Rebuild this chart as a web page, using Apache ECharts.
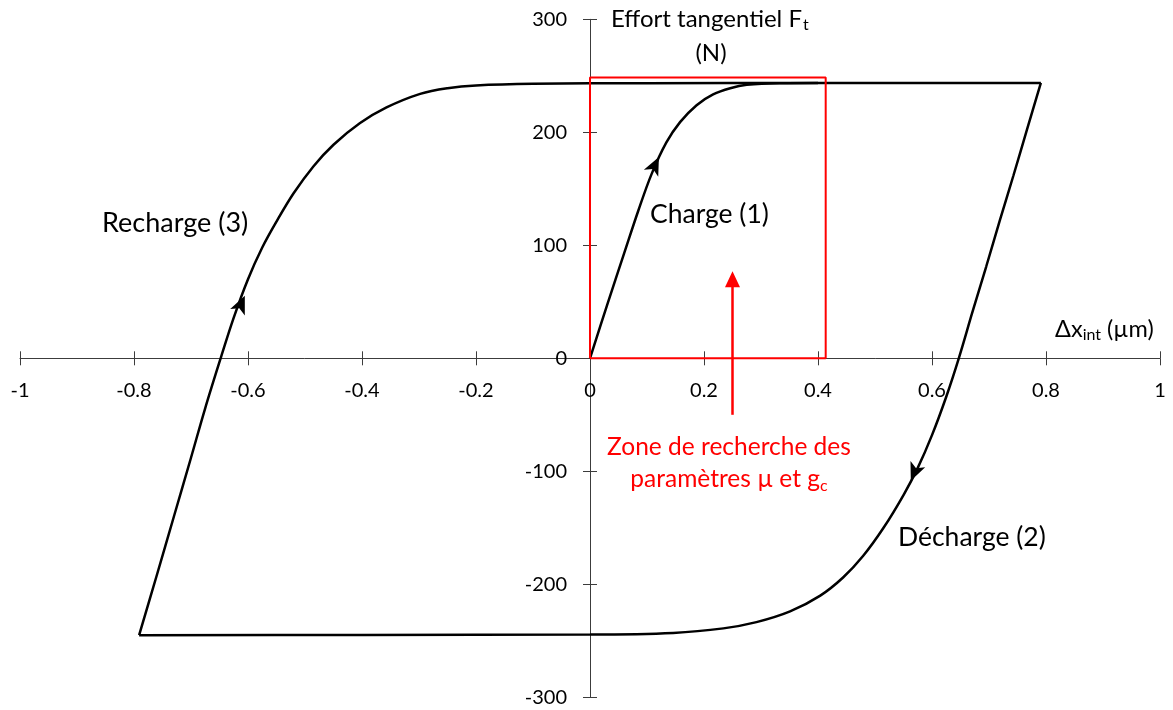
<!DOCTYPE html>
<html>
<head>
<meta charset="utf-8">
<script src="https://cdn.jsdelivr.net/npm/echarts@6/dist/echarts.min.js"></script>
<style>html,body{margin:0;padding:0;background:#fff}#c{width:1173px;height:710px}</style>
</head>
<body>
<div id="c"></div>
<script>
// ---- data (Δx_int in µm, F_t in N) ----
const xTicks = [-1, -0.8, -0.6, -0.4, -0.2, 0, 0.2, 0.4, 0.6, 0.8, 1];
const yTicks = [-300, -200, -100, 0, 100, 200, 300];

const chargeX = [0, 0.03, 0.06, 0.085, 0.108, 0.134, 0.158, 0.187, 0.216, 0.246, 0.275, 0.333, 0.4];
const chargeF = [0, 47, 93, 131, 163, 191, 209, 224, 233.5, 239, 242, 243.5, 243.7];

const dechargeX = [0.791, 0.767, 0.743, 0.719, 0.695, 0.671, 0.647, 0.625, 0.6, 0.575, 0.55, 0.515, 0.479, 0.444, 0.404, 0.351, 0.292, 0.234, 0.146, 0, -0.4, -0.791];
const dechargeF = [243.7, 203, 162, 122, 81, 41, 0, -34, -68, -97, -121, -150, -175, -194, -210, -224, -233.5, -239, -243, -244.5, -244.8, -245];

const rechargeX = [-0.791, -0.76, -0.73, -0.70, -0.675, -0.648, -0.625, -0.6, -0.575, -0.55, -0.52, -0.485, -0.45, -0.404, -0.357, -0.298, -0.25, -0.2, -0.1, 0.1, 0.4, 0.791];
const rechargeF = [-245, -192, -140, -88, -44, 0, 36, 70, 98, 121, 146, 170, 189, 208, 222, 234, 239, 241.5, 243, 243.5, 243.7, 243.7];

// direction arrows on the curves
const arrowX = [0.114, 0.569, -0.612];
const arrowF = [171, -101, 48];
const arrowRot = [-26, 157, -24];

// search zone rectangle and red arrow
const zoneX = [0, 0.4135, 0.4135, 0, 0];
const zoneF = [0, 0, 248.5, 248.5, 0];
const redArrowX = [0.25, 0.25];
const redArrowF = [-50, 70];

const zip = (a, b) => a.map((v, i) => [v, b[i]]);

const FONT = 'Lato';
const axisCol = '#3c3c3c';
const chart = echarts.init(document.getElementById('c'), null, {renderer: 'canvas'});

// plot area geometry
const G = {left: 20, right: 13, top: 19.3, bottom: 12.7};
const H = 710 - G.top - G.bottom, W = 1173 - G.left - G.right;
const xZeroOff = -(H * (0 - (-300)) / 600);
const xTopOff = -(H * (300 - 0) / 600);
const yZeroOff = -(W * (0 - (-1)) / 2);
const yRightOff = -(W * (1 - 0) / 2);

const xBase = {
  type: 'value', min: -1, max: 1, interval: 0.2,
  splitLine: {show: false},
  axisLine: {show: true, onZero: false, lineStyle: {color: axisCol, width: 1}},
};
const yBase = {
  type: 'value', min: -300, max: 300, interval: 100,
  splitLine: {show: false},
  axisLine: {show: true, onZero: false, lineStyle: {color: axisCol, width: 1}},
};

const arrowPath = 'path://M10,0 L20,20 L10,15 L0,20 Z';

chart.setOption({
  animation: false,
  grid: Object.assign({containLabel: false, outerBoundsMode: 'none'}, G),
  xAxis: [
    Object.assign({}, xBase, {
      position: 'bottom', offset: xZeroOff,
      axisTick: {show: true, inside: false, length: 7, lineStyle: {color: axisCol}},
      axisLabel: {show: true, margin: 22, fontFamily: FONT, fontSize: 20, color: '#000',
        showMinLabel: true, showMaxLabel: true, hideOverlap: false,
        formatter: v => String(Math.round(v * 10) / 10)}
    }),
    Object.assign({}, xBase, {
      position: 'top', offset: xTopOff,
      axisLine: {show: false},
      axisTick: {show: true, inside: false, length: 7, lineStyle: {color: axisCol}},
      axisLabel: {show: false}
    })
  ],
  yAxis: [
    Object.assign({}, yBase, {
      position: 'left', offset: yZeroOff,
      axisTick: {show: true, inside: false, length: 7, lineStyle: {color: axisCol}},
      axisLabel: {show: true, margin: 23, fontFamily: FONT, fontSize: 20, color: '#000',
        showMinLabel: true, showMaxLabel: true, hideOverlap: false}
    }),
    Object.assign({}, yBase, {
      position: 'right', offset: yRightOff,
      axisLine: {show: false},
      axisTick: {show: true, inside: false, length: 7, lineStyle: {color: axisCol}},
      axisLabel: {show: false}
    })
  ],
  series: [
    {type: 'line', name: 'Charge (1)', data: zip(chargeX, chargeF), smooth: 0.35, showSymbol: false,
      lineStyle: {color: '#000', width: 2.5}, z: 5},
    {type: 'line', name: 'Décharge (2)', data: zip(dechargeX, dechargeF), smooth: 0.35, showSymbol: false,
      lineStyle: {color: '#000', width: 2.5}, z: 5},
    {type: 'line', name: 'Recharge (3)', data: zip(rechargeX, rechargeF), smooth: 0.35, showSymbol: false,
      lineStyle: {color: '#000', width: 2.5}, z: 5},
    {type: 'line', name: 'zone', data: zip(zoneX, zoneF), smooth: false, showSymbol: false,
      lineStyle: {color: '#ff0000', width: 2}, z: 6,
      markLine: {
        silent: true, animation: false,
        symbol: ['none', 'triangle'], symbolSize: [15, 16],
        lineStyle: {color: '#ff0000', width: 2.5, type: 'solid'},
        label: {show: false},
        data: [[{coord: [redArrowX[0], redArrowF[0]]}, {coord: [redArrowX[1], redArrowF[1]]}]]
      }},
    {type: 'scatter', name: 'arrows', symbol: arrowPath, symbolSize: [16, 18], symbolKeepAspect: false, z: 7,
      itemStyle: {color: '#000', opacity: 1},
      data: arrowX.map((x, i) => ({value: [x, arrowF[i]], symbolRotate: arrowRot[i]}))}
  ],
  graphic: [
    {type: 'text', x: 611, y: 19, style: {
      text: '{a|Effort tangentiel F}{s|t}', fontFamily: FONT, fill: '#000', verticalAlign: 'middle',
      rich: {a: {fontFamily: FONT, fontSize: 24, lineHeight: 28, verticalAlign: 'middle'},
             s: {fontFamily: FONT, fontSize: 16, lineHeight: 28, verticalAlign: 'bottom', padding: [0, 0, 0, 1]}}}},
    {type: 'text', x: 711, y: 53, style: {text: '(N)', fontFamily: FONT, fontSize: 24, fill: '#000', align: 'center', verticalAlign: 'middle'}},
    {type: 'text', x: 1055, y: 329, style: {
      text: '{a|Δx}{s|int}{a| (µm)}', fontFamily: FONT, fill: '#000', verticalAlign: 'middle',
      rich: {a: {fontFamily: FONT, fontSize: 23.5, lineHeight: 28, verticalAlign: 'middle'},
             s: {fontFamily: FONT, fontSize: 16, lineHeight: 28, verticalAlign: 'bottom'}}}},
    {type: 'text', x: 102, y: 223, style: {text: 'Recharge (3)', fontFamily: FONT, fontSize: 27, fill: '#000', verticalAlign: 'middle'}},
    {type: 'text', x: 650, y: 214, style: {text: 'Charge (1)', fontFamily: FONT, fontSize: 26.5, fill: '#000', verticalAlign: 'middle'}},
    {type: 'text', x: 898, y: 537, style: {text: 'Décharge (2)', fontFamily: FONT, fontSize: 26.5, fill: '#000', verticalAlign: 'middle'}},
    {type: 'text', x: 729, y: 447, style: {text: 'Zone de recherche des', fontFamily: FONT, fontSize: 24.5, fill: '#ff0000', align: 'center', verticalAlign: 'middle'}},
    {type: 'text', x: 729, y: 479, style: {
      text: '{a|paramètres µ et g}{s|c}', fontFamily: FONT, fill: '#ff0000', align: 'center', verticalAlign: 'middle',
      rich: {a: {fontFamily: FONT, fontSize: 24.5, lineHeight: 30, verticalAlign: 'middle', fill: '#ff0000'},
             s: {fontFamily: FONT, fontSize: 16, lineHeight: 30, verticalAlign: 'bottom', fill: '#ff0000'}}}}
  ]
});
</script>
</body>
</html>
